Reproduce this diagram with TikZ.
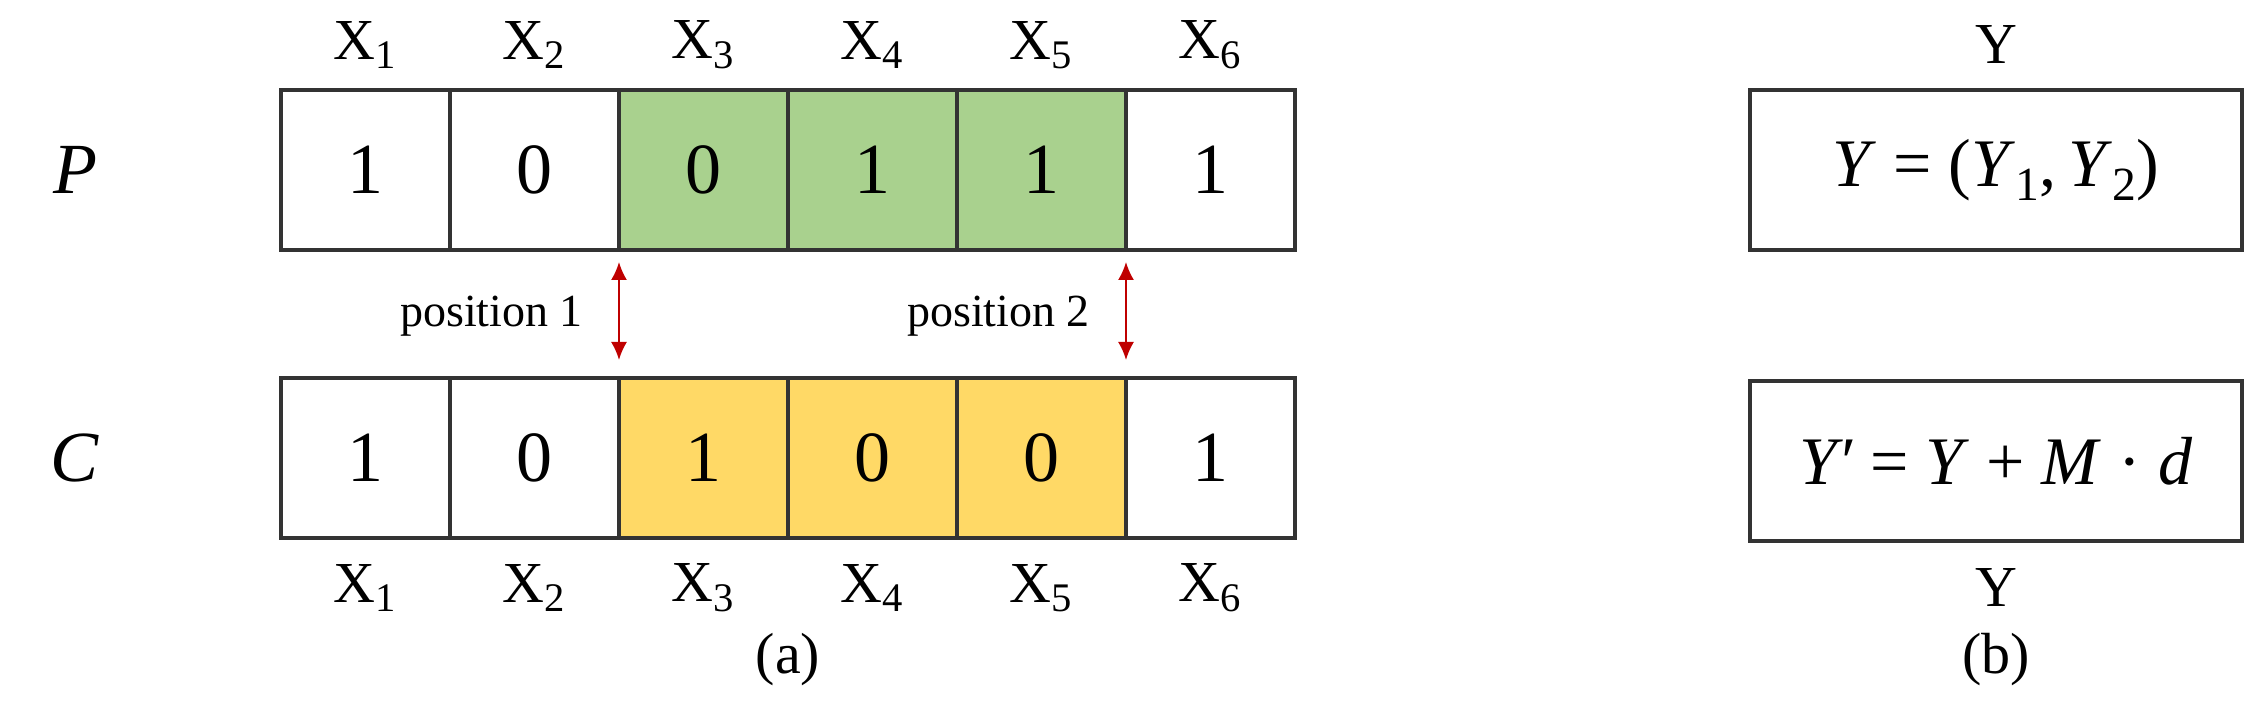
\documentclass[tikz,border=0pt]{standalone}
\usepackage{fontspec}
\setmainfont{Liberation Serif}
\usetikzlibrary{arrows.meta}
\begin{document}
\begin{tikzpicture}[x=0.5pt,y=-0.5pt,
 cell/.style={draw=black!80,line width=1.6pt,minimum width=84.5pt,minimum height=80pt,inner sep=0pt,font=\fontsize{36}{40}\selectfont},
 lab/.style={font=\fontsize{29}{32}\selectfont},
 arr/.style={draw=red!75!black,line width=1pt,{Latex[length=9pt,width=8pt]}-{Latex[length=9pt,width=8pt]}},
 eq/.style={draw=black!80,line width=1.6pt,minimum width=246pt,minimum height=80pt,font=\fontsize{34}{38}\selectfont}]
\useasboundingbox (0,0) rectangle (2267,710);
\definecolor{gP}{RGB}{169,209,142}
\definecolor{yC}{RGB}{255,217,102}
\foreach \i/\p/\c/\fp/\fc in {1/1/1/white/white,2/0/0/white/white,3/0/1/gP/yC,4/1/0/gP/yC,5/1/0/gP/yC,6/1/1/white/white}{
 \node[cell,fill=\fp] (p\i) at (281+169*\i-84.5,170) {\p};
 \node[cell,fill=\fc] (c\i) at (281+169*\i-84.5,458) {\c};
 \node[lab] (tx\i) at (281+169*\i-84.5,45) {X\textsubscript{\i}};
 \node[lab] (bx\i) at (281+169*\i-84.5,588) {X\textsubscript{\i}};
}
\node[font=\fontsize{36}{40}\selectfont\itshape] (P) at (75,170) {P};
\node[font=\fontsize{36}{40}\selectfont\itshape] (C) at (75,458) {C};
\coordinate (a1t) at (619,262); \coordinate (a1b) at (619,360);
\coordinate (a2t) at (1126,262); \coordinate (a2b) at (1126,360);
\draw[arr] (a1t) -- (a1b);
\draw[arr] (a2t) -- (a2b);
\node[font=\fontsize{23}{26}\selectfont,anchor=east] (pos1) at (590,316) {position 1};
\node[font=\fontsize{23}{26}\selectfont,anchor=east] (pos2) at (1097,316) {position 2};
\node[eq] (Y1) at (1996,170) {\textit{Y} = (\textit{Y}\textsubscript{1},\,\textit{Y}\textsubscript{2})};
\node[eq] (Y2) at (1996,461) {\textit{Y′} = \textit{Y} + \textit{M} \textperiodcentered{} \textit{d}};
\node[lab] (yt) at (1996,45) {Y};
\node[lab] (yb) at (1996,588) {Y};
\node[lab] (la) at (788,660) {(a)};
\node[lab] (lb) at (1996,660) {(b)};
\end{tikzpicture}
\end{document}
